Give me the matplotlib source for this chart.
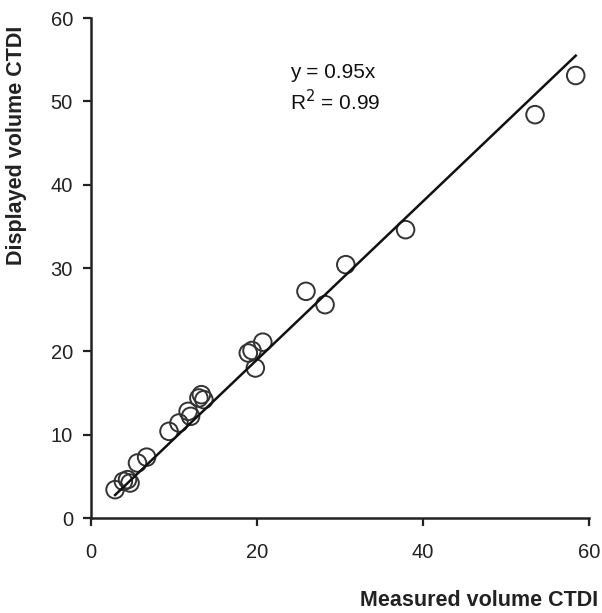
import matplotlib.pyplot as plt

plt.rcParams['font.family'] = ['Liberation Sans', 'DejaVu Sans']

# measured vs displayed volume CTDI (mGy)
measured = [2.9, 3.9, 4.4, 4.7, 5.6, 6.7, 9.4, 10.6, 11.7, 12.0, 13.0, 13.3, 13.6,
            18.95, 19.4, 19.8, 20.7, 25.9, 28.2, 30.7, 37.9, 53.5, 58.4]
displayed = [3.4, 4.4, 4.6, 4.2, 6.6, 7.3, 10.4, 11.4, 12.8, 12.2, 14.4, 14.8, 14.2,
             19.8, 20.1, 18.0, 21.1, 27.2, 25.6, 30.4, 34.6, 48.4, 53.1]
slope = 0.95
r_squared = 0.99
ticks = [0, 20, 40, 60]
yticks = [0, 10, 20, 30, 40, 50, 60]

W, H = 602, 613
fig = plt.figure(figsize=(W / 100, H / 100), dpi=100)
ax = fig.add_axes([91 / W, 1 - 518 / H, 498 / W, 500 / H])

ax.scatter(measured, displayed, s=160, facecolors='none', edgecolors='#333333',
           linewidths=1.4, zorder=3)
xs = [min(measured), max(measured)]
ax.plot(xs, [slope * v for v in xs], color='#111111', lw=1.8, zorder=4)

ax.text(24, 53.4, f"y = {slope}x", fontsize=15, va='center', ha='left', color='#111111')
ax.text(24, 50.0, f"R$^2$ = {r_squared}", fontsize=15, va='center', ha='left', color='#111111')

ax.set_xlim(0, 60)
ax.set_ylim(0, 60)
ax.set_xticks(ticks)
ax.set_yticks(yticks)
for s in ['top', 'right']:
    ax.spines[s].set_visible(False)
for s in ['left', 'bottom']:
    ax.spines[s].set_linewidth(1.8)
    ax.spines[s].set_color('#222222')
ax.tick_params(axis='both', direction='out', length=6, width=1.6, color='#222222',
               labelsize=14.5, labelcolor='#222222')
ax.tick_params(axis='x', pad=12)
ax.tick_params(axis='y', pad=7)

fig.text(598 / W, 1 - 600 / H, "Measured volume CTDI", ha='right', va='center',
         fontsize=15.5, fontweight='bold', color='#222222')
fig.text(17 / W, 1 - 145 / H, "Displayed volume CTDI", ha='center', va='center',
         rotation=90, fontsize=15.5, fontweight='bold', color='#222222')

fig.savefig('out.png', dpi=100)
